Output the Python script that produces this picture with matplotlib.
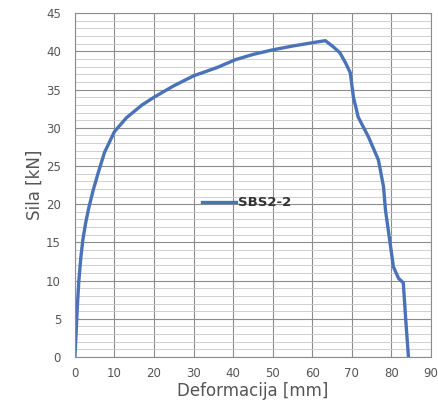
import matplotlib.pyplot as plt
from matplotlib.ticker import MultipleLocator

# Force-deformation curve
deformacija = [0, 0.3, 0.6, 1.0, 1.5, 2.0, 2.7, 3.5, 4.6, 6.0, 7.5, 10, 13, 17, 20,
               25, 30, 36, 40.5, 45, 50, 55, 60.8, 63.3, 65.3, 67, 68.4, 69.6,
               70.4, 71.6, 74.2, 76.7, 78, 78.5, 80.5, 81.8, 83, 83.6, 84.3]
sila = [0, 3, 6.5, 10, 13, 15.3, 17.5, 19.5, 21.8, 24.3, 26.8, 29.5, 31.3, 33, 34,
        35.5, 36.8, 37.9, 38.9, 39.6, 40.2, 40.7, 41.2, 41.4, 40.6, 39.8, 38.5,
        37.2, 34, 31.4, 28.8, 25.8, 22.3, 19.2, 11.8, 10.3, 9.7, 5, 0]
serija = "SBS2-2"

fig = plt.figure(figsize=(4.38, 4.12), dpi=100)
ax = fig.add_axes([0.171, 0.1335, 0.813, 0.8345])

ax.plot(deformacija, sila, color='#4a72b8', linewidth=2.4, label=serija)

ax.set_xlim(0, 90)
ax.set_ylim(0, 45)
ax.xaxis.set_major_locator(MultipleLocator(10))
ax.yaxis.set_major_locator(MultipleLocator(5))
ax.yaxis.set_minor_locator(MultipleLocator(1))

ax.grid(True, which='major', color='#8c8c8c', linewidth=0.8)
ax.grid(True, which='minor', axis='y', color='#c8c8c8', linewidth=0.6)
ax.set_axisbelow(True)

ax.tick_params(which='both', length=0, colors='#555555', labelsize=8.5)
ax.tick_params(axis='x', pad=7)
ax.tick_params(axis='y', pad=10)
for s in ax.spines.values():
    s.set_color('#8c8c8c')
    s.set_linewidth(0.8)

ax.set_xlabel("Deformacija [mm]", fontsize=12, color='#555555', labelpad=2)
ax.set_ylabel("Sila [kN]", fontsize=12, color='#555555', labelpad=2)

leg = ax.legend(loc='center', bbox_to_anchor=(0.483, 0.448), frameon=False,
                handlelength=2.6, handletextpad=0.15,
                prop={'size': 9.5, 'weight': 'bold'})
for t in leg.get_texts():
    t.set_color('#333333')

fig.savefig("out.png", dpi=100)
